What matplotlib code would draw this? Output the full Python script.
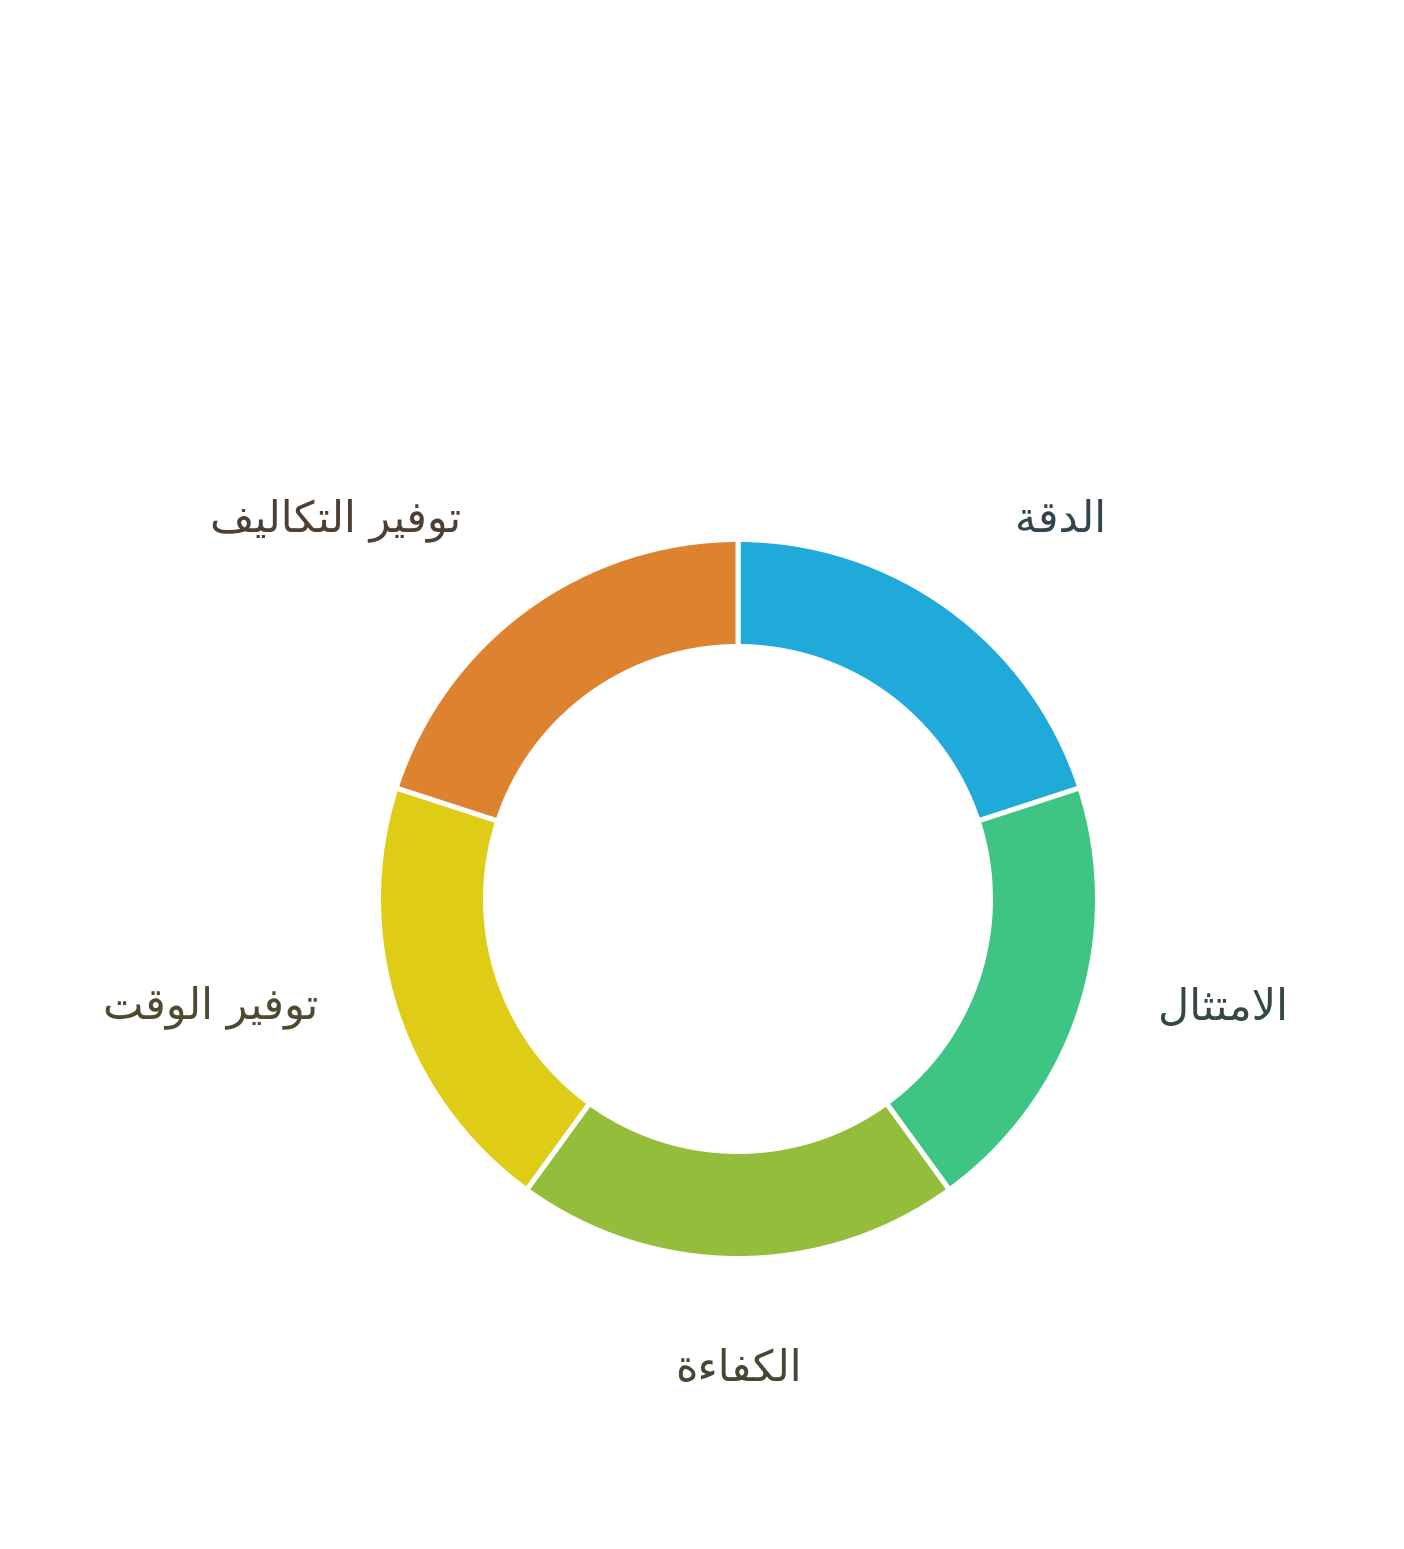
import numpy as np
import matplotlib
matplotlib.use('Agg')
import matplotlib.pyplot as plt
from matplotlib.colors import to_rgb

# data
labels = ['الدقة', 'الامتثال', 'الكفاءة', 'توفير الوقت', 'توفير التكاليف']
values = [20, 20, 20, 20, 20]
colors = ['#1FAAD9', '#3EC584', '#93BD3A', '#DECC16', '#DD8330']

# arabic shaping (matplotlib has no text layout for it)
FORMS = {
    'ء': ('\uFE80',),
    'ا': ('\uFE8D', '\uFE8E'),
    'ة': ('\uFE93', '\uFE94'),
    'د': ('\uFEA9', '\uFEAA'),
    'ر': ('\uFEAD', '\uFEAE'),
    'و': ('\uFEED', '\uFEEE'),
    'ت': ('\uFE95', '\uFE96', '\uFE97', '\uFE98'),
    'ث': ('\uFE99', '\uFE9A', '\uFE9B', '\uFE9C'),
    'ف': ('\uFED1', '\uFED2', '\uFED3', '\uFED4'),
    'ق': ('\uFED5', '\uFED6', '\uFED7', '\uFED8'),
    'ك': ('\uFED9', '\uFEDA', '\uFEDB', '\uFEDC'),
    'ل': ('\uFEDD', '\uFEDE', '\uFEDF', '\uFEE0'),
    'م': ('\uFEE1', '\uFEE2', '\uFEE3', '\uFEE4'),
    'ي': ('\uFEF1', '\uFEF2', '\uFEF3', '\uFEF4'),
}
LAM_ALEF = ('\uFEFB', '\uFEFC')


def shape(s):
    chars = list(s)
    out = []
    i = 0
    while i < len(chars):
        c = chars[i]
        if c not in FORMS:
            out.append(c)
            i += 1
            continue
        prev = chars[i - 1] if i > 0 else None
        joins_prev = prev in FORMS and len(FORMS[prev]) == 4
        if c == 'ل' and i + 1 < len(chars) and chars[i + 1] == 'ا':
            out.append(LAM_ALEF[1] if joins_prev else LAM_ALEF[0])
            i += 2
            continue
        f = FORMS[c]
        nxt = chars[i + 1] if i + 1 < len(chars) else None
        joins_next = len(f) == 4 and nxt in FORMS
        if joins_prev and joins_next:
            out.append(f[3])
        elif joins_prev:
            out.append(f[1])
        elif joins_next:
            out.append(f[2])
        else:
            out.append(f[0])
        i += 1
    return ''.join(out[::-1])


def label_color(c):
    r, g, b = to_rgb(c)
    k = 0.15
    base = 0.2
    return (r * k + base * (1 - k), g * k + base * (1 - k), b * k + base * (1 - k))


W, H = 1404, 1549
fig = plt.figure(figsize=(W / 100, H / 100), dpi=100)
ax = fig.add_axes([0, 0, 1, 1])
cx, cy = 738, H - 899
R = 359.5

ax.pie(values, colors=colors, startangle=90, counterclock=False,
       radius=R, center=(cx, cy),
       wedgeprops=dict(width=107, edgecolor='white', linewidth=3.6))
ax.set_xlim(0, W)
ax.set_ylim(0, H)
ax.set_aspect('equal')
ax.axis('off')

label_r = 471
nudge = [(0, -2), (-28, 37), (0, 1), (28, 37), (0, -2)]
step = 360 / sum(values)
start = 90
for i, (lab, v) in enumerate(zip(labels, values)):
    mid = np.deg2rad(start - v * step / 2)
    start -= v * step
    x = cx + label_r * np.cos(mid) + nudge[i][0]
    y = cy + label_r * np.sin(mid) + nudge[i][1]
    if np.cos(mid) > 0.1:
        ha = 'left'
    elif np.cos(mid) < -0.1:
        ha = 'right'
    else:
        ha = 'center'
    ax.text(x, y, shape(lab), ha=ha, va='center', fontsize=31,
            family='DejaVu Sans', color=label_color(colors[i]))

fig.savefig('out.png', dpi=100, facecolor='white')
